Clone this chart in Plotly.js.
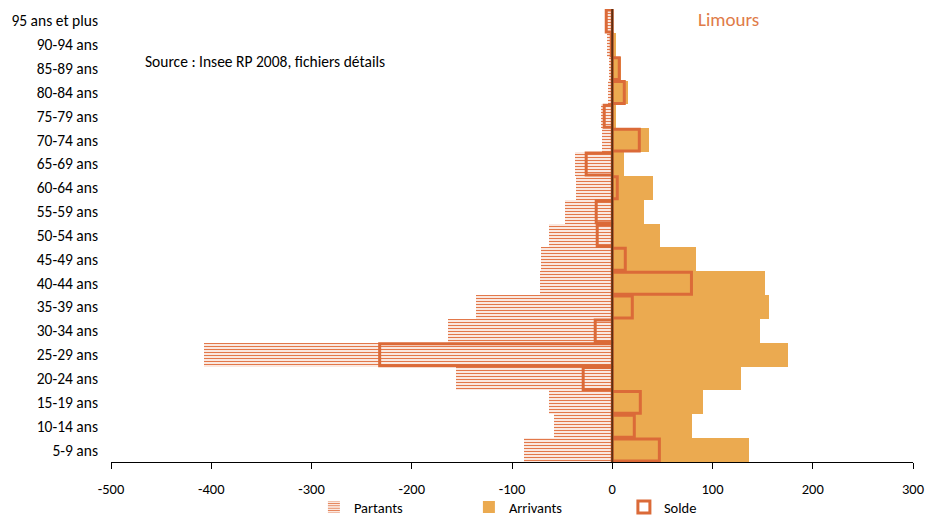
<!DOCTYPE html>
<html>
<head>
<meta charset="utf-8">
<script src="https://cdn.plot.ly/plotly-3.0.1.min.js"></script>
<style>html,body{margin:0;padding:0;background:#fff;}#chart{width:939px;height:518px;}</style>
</head>
<body>
<div id="chart"></div>
<script>
const ageGroups = ["5-9 ans","10-14 ans","15-19 ans","20-24 ans","25-29 ans","30-34 ans","35-39 ans","40-44 ans","45-49 ans","50-54 ans","55-59 ans","60-64 ans","65-69 ans","70-74 ans","75-79 ans","80-84 ans","85-89 ans","90-94 ans","95 ans et plus"];
const partants = [-88, -58, -63, -156, -407, -164, -136, -72, -71, -63, -47, -36, -37, -10, -11, -4, -3, -5, -6];
const arrivants = [136, 80, 91, 128, 175, 147, 156, 152, 84, 48, 32, 41, 12, 37, 4, 16, 9, 4, 0];
const solde = [47, 22, 28, -29, -232, -17, 20, 79, 13, -15, -16, 5, -26, 27, -8, 12, 7, -1, -6];
const xTicks = [-500, -400, -300, -200, -100, 0, 100, 200, 300];
const xTickLabels = ["-500", "-400", "-300", "-200", "-100", "0", "100", "200", "300"];
const chartTitle = "Limours";
const sourceNote = "Source : Insee RP 2008, fichiers détails";

const FONT = "Carlito, Lato, 'Liberation Sans', Arial, sans-serif";

const traces = [
  {
    type: "bar", orientation: "h", name: "Partants",
    y: ageGroups, x: partants, width: 1,
    marker: {
      color: "#F6CBB5",
      line: {width: 0},
      pattern: {shape: "-", fgcolor: "#E2784A", size: 3, solidity: 0.45, fillmode: "replace"}
    },
    hoverinfo: "x+y"
  },
  {
    type: "bar", orientation: "h", name: "Arrivants",
    y: ageGroups, x: arrivants, width: 1,
    marker: {color: "#EBAA50", line: {width: 0}},
    hoverinfo: "x+y"
  },
  {
    type: "bar", orientation: "h", name: "Solde",
    y: ageGroups, x: solde, width: 0.92,
    marker: {color: "rgba(0,0,0,0)", line: {color: "#DB6A38", width: 3}},
    hoverinfo: "x+y"
  }
];

const layout = {
  width: 939, height: 518,
  margin: {l: 111, r: 26, t: 9, b: 56},
  paper_bgcolor: "#fff", plot_bgcolor: "#fff",
  barmode: "overlay", bargap: 0,
  font: {family: FONT, size: 15, color: "#000"},
  showlegend: true,
  legend: {orientation: "h", xref: "paper", x: 0.253, xanchor: "left",
    yref: "container", y: 0.052, yanchor: "top",
    font: {family: FONT, size: 14.5, color: "#000"}, itemwidth: 30, entrywidth: 110,
    traceorder: "normal", tracegroupgap: 0, bgcolor: "rgba(0,0,0,0)"},
  xaxis: {
    range: [-500, 300], tickmode: "array", tickvals: xTicks, ticktext: xTickLabels,
    showgrid: false, zeroline: false,
    showline: true, linecolor: "#000", linewidth: 1,
    ticks: "outside", ticklen: 6, tickcolor: "#000", tickwidth: 1,
    ticklabelstandoff: 8,
    tickfont: {family: FONT, size: 14.5, color: "#000"},
    fixedrange: true
  },
  yaxis: {
    type: "category", categoryorder: "array", categoryarray: ageGroups,
    range: [-0.5, ageGroups.length - 0.5],
    showgrid: false, zeroline: false, showline: false, ticks: "",
    ticklabelstandoff: 12,
    tickfont: {family: FONT, size: 15.5, color: "#000"},
    fixedrange: true
  },
  shapes: [
    {type: "line", xref: "x", yref: "paper", x0: 0, x1: 0, y0: 0, y1: 1,
     line: {color: "#5C2E12", width: 2}, layer: "above"}
  ],
  annotations: [
    {text: chartTitle, xref: "paper", yref: "paper", x: 0.77, y: 0.977, xanchor: "center", yanchor: "middle",
     showarrow: false, font: {family: FONT, size: 19, color: "#E07B47"}},
    {text: sourceNote, xref: "paper", yref: "paper", x: 0.04, y: 0.884, xanchor: "left", yanchor: "middle",
     showarrow: false, font: {family: FONT, size: 15.5, color: "#000"}}
  ]
};

Plotly.newPlot("chart", traces, layout, {displayModeBar: false, staticPlot: true});
</script>
</body>
</html>
